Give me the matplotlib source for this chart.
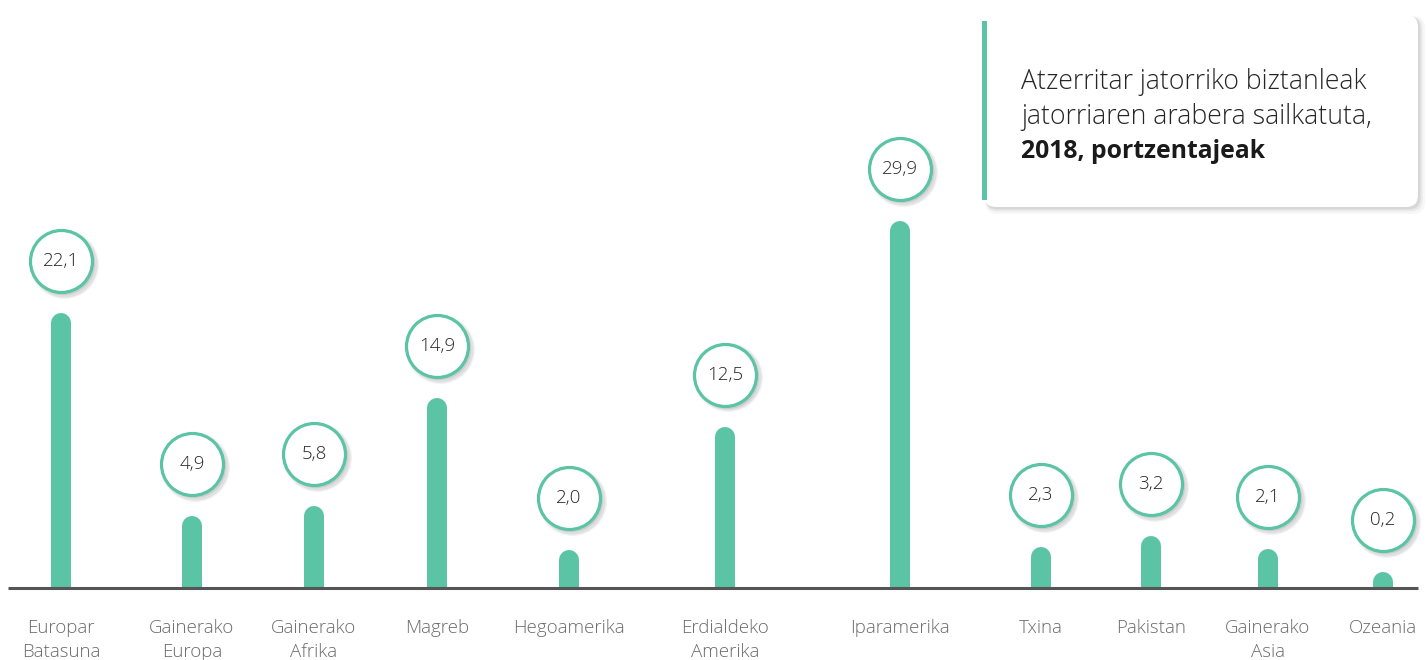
import matplotlib
matplotlib.use("Agg")
import matplotlib.pyplot as plt
from matplotlib.patches import FancyBboxPatch, Rectangle

categories = ["Europar\nBatasuna", "Gainerako\nEuropa", "Gainerako\nAfrika", "Magreb",
              "Hegoamerika", "Erdialdeko\nAmerika", "Iparamerika", "Txina",
              "Pakistan", "Gainerako\nAsia", "Ozeania"]
values = [22.1, 4.9, 5.8, 14.9, 2.0, 12.5, 29.9, 2.3, 3.2, 2.1, 0.2]
value_labels = ["22,1", "4,9", "5,8", "14,9", "2,0", "12,5", "29,9", "2,3", "3,2", "2,1", "0,2"]
title_lines = ["Atzerritar jatorriko biztanleak", "jatorriaren arabera sailkatuta,"]
title_bold = "2018, portzentajeak"

# layout (pixel positions of category centres)
xpos = [61, 192, 314, 437, 569, 725, 900, 1041, 1151, 1268, 1383]

W, H = 1428, 660
GREEN = "#5BC4A4"
K = 11.8          # px per unit
BASE = 72         # baseline px from bottom

fig = plt.figure(figsize=(W / 100, H / 100), dpi=100)
ax = fig.add_axes([0, 0, 1, 1])
ax.set_xlim(0, W)
ax.set_ylim(-BASE / K, (H - BASE) / K)
ax.axis("off")

px = lambda p: p / K  # px -> data units (y)

# clip region above baseline
clip = Rectangle((0, 0), W, 100, transform=ax.transData, facecolor="none", edgecolor="none")
ax.add_patch(clip)

# bars with rounded top
for x, v in zip(xpos, values):
    ln, = ax.plot([x, x], [-5, v + px(4)], color=GREEN, lw=20 * 0.72,
                  solid_capstyle="round", zorder=2)
    ln.set_clip_path(clip)

# baseline
ax.plot([8, 1418], [0, 0], color="#555555", lw=2.2, zorder=3, solid_capstyle="butt")

# value circles
cy = [v + px(66) for v in values]
d = 62 * 0.72
for dx, dy, a, grow in [(3, -3, 0.05, 5), (3, -3, 0.07, 3), (2, -2, 0.08, 1)]:
    ax.scatter([x + dx for x in xpos], [c + px(dy) for c in cy], s=(d + grow) ** 2,
               color="#000000", alpha=a, linewidths=0, zorder=3)
ax.scatter(xpos, cy, s=d ** 2, facecolor="white", edgecolor=GREEN,
           linewidths=2.3, zorder=4)
for x, c, lab in zip(xpos, cy, value_labels):
    ax.text(x, c, lab, ha="center", va="center", fontsize=13.5, color="#262626",
            family="Open Sans", fontweight="light", zorder=5)

# category labels
for x, lab in zip(xpos, categories):
    ax.text(x, px(-31), lab, ha="center", va="top", fontsize=13.5, color="#6b6b6b",
            family="Open Sans", fontweight="light", linespacing=1.4)

# title box in pixel coords
ax2 = fig.add_axes([0, 0, 1, 1])
ax2.set_xlim(0, W)
ax2.set_ylim(H, 0)
ax2.axis("off")
bx, by, bw, bh = 984, 15, 434, 192
for off, grow, a in [(4, 6, 0.03), (3, 3, 0.05), (2, 1, 0.08)]:
    ax2.add_patch(FancyBboxPatch((bx + off - grow / 2, by + off - grow / 2), bw + grow, bh + grow,
                                 boxstyle="round,pad=0,rounding_size=12",
                                 facecolor="black", edgecolor="none", alpha=a))
ax2.add_patch(FancyBboxPatch((bx, by), bw, bh, boxstyle="round,pad=0,rounding_size=12",
                             facecolor="white", edgecolor="none"))
ax2.add_patch(Rectangle((982, 21), 5, 179, facecolor=GREEN, edgecolor="none"))
ax2.text(1021, 82, title_lines[0], fontsize=19.2, color="#262626", va="center",
         family="Open Sans", fontweight="light")
ax2.text(1021, 117, title_lines[1], fontsize=19.2, color="#262626", va="center",
         family="Open Sans", fontweight="light")
ax2.text(1021, 152, title_bold, fontsize=17.8, color="#1a1a1a", va="center",
         family="Open Sans", fontweight="bold")

fig.savefig("out.png", dpi=100)
